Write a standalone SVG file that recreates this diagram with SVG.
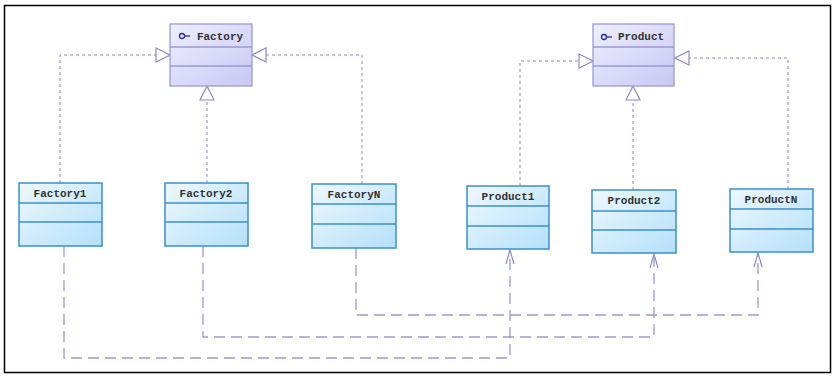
<svg xmlns="http://www.w3.org/2000/svg" width="836" height="379" viewBox="0 0 836 379">
<defs>
<linearGradient id="gi" x1="0" y1="0" x2="1" y2="1">
<stop offset="0" stop-color="#eeeefe"/><stop offset="1" stop-color="#c8c8f4"/>
</linearGradient>
<linearGradient id="gc" x1="0" y1="0" x2="1" y2="1">
<stop offset="0" stop-color="#eef8fe"/><stop offset="1" stop-color="#b4e0fa"/>
</linearGradient>
<marker id="tri" viewBox="0 0 16 16" refX="15" refY="8" markerWidth="16" markerHeight="16" markerUnits="userSpaceOnUse" orient="auto">
<path d="M1,1 L15,8 L1,15 Z" fill="#ffffff" stroke="#8c8cc8" stroke-width="1.2"/>
</marker>
<marker id="open" viewBox="0 0 16 12" refX="15" refY="6" markerWidth="16" markerHeight="12" markerUnits="userSpaceOnUse" orient="auto">
<path d="M1,2 L15,6 L1,10" fill="none" stroke="#8c8cc8" stroke-width="1.2"/>
</marker>
</defs>
<style>
.iface{fill:url(#gi);stroke:#9a9ad8;stroke-width:1.3}
.cls{fill:url(#gc);stroke:#3a90cc;stroke-width:1.5}
.isep{stroke:#9a9ad8;stroke-width:1.3}
.csep{stroke:#3a90cc;stroke-width:1.5}
.lbl{font-family:"Liberation Mono",monospace;font-size:11px;font-weight:bold;fill:#333;text-anchor:middle}
.real{fill:none;stroke:#8c8cc8;stroke-width:1;stroke-dasharray:3,3}
.dep{fill:none;stroke:#9a9ad0;stroke-width:1.3;stroke-dasharray:11,6}
</style>
<rect x="4.5" y="5.5" width="826" height="367" fill="#ffffff" stroke="#000" stroke-width="1.5"/>
<g id="connectors">
<path class="real" d="M60,183 V55 H170" marker-end="url(#tri)"/>
<path class="real" d="M207,183 V86" marker-end="url(#tri)"/>
<path class="real" d="M362,184 V55 H252" marker-end="url(#tri)"/>
<path class="real" d="M520,186 V61 H593" marker-end="url(#tri)"/>
<path class="real" d="M633,190 V86" marker-end="url(#tri)"/>
<path class="real" d="M788,189 V58 H675" marker-end="url(#tri)"/>
<path class="dep" d="M64,246 V358 H510 V250" marker-end="url(#open)"/>
<path class="dep" d="M203,246 V337 H654 V254" marker-end="url(#open)"/>
<path class="dep" d="M356,248 V315 H758 V253" marker-end="url(#open)"/>
</g>
<g id="Factory">
<rect class="iface" x="170" y="24" width="82" height="62"/>
<line class="isep" x1="170" y1="47" x2="252" y2="47"/>
<line class="isep" x1="170" y1="66" x2="252" y2="66"/>
<circle cx="182" cy="36" r="2.5" fill="none" stroke="#2a2aa0" stroke-width="1.3"/>
<line x1="184.5" y1="36" x2="190" y2="36" stroke="#2a2aa0" stroke-width="1.3"/>
<text class="lbl" x="220" y="40">Factory</text>
</g>
<g id="Product">
<rect class="iface" x="593" y="24" width="81" height="62"/>
<line class="isep" x1="593" y1="47" x2="674" y2="47"/>
<line class="isep" x1="593" y1="66" x2="674" y2="66"/>
<circle cx="604" cy="37" r="2.5" fill="none" stroke="#2a2aa0" stroke-width="1.3"/>
<line x1="606.5" y1="37" x2="612" y2="37" stroke="#2a2aa0" stroke-width="1.3"/>
<text class="lbl" x="641" y="40">Product</text>
</g>
<g id="Factory1">
<rect class="cls" x="19" y="183" width="83" height="63"/>
<line class="csep" x1="19" y1="203" x2="102" y2="203"/>
<line class="csep" x1="19" y1="222" x2="102" y2="222"/>
<text class="lbl" x="60" y="197">Factory1</text>
</g>
<g id="Factory2">
<rect class="cls" x="165" y="183" width="83" height="63"/>
<line class="csep" x1="165" y1="203" x2="248" y2="203"/>
<line class="csep" x1="165" y1="222" x2="248" y2="222"/>
<text class="lbl" x="206" y="197">Factory2</text>
</g>
<g id="FactoryN">
<rect class="cls" x="312" y="184" width="84" height="64"/>
<line class="csep" x1="312" y1="204" x2="396" y2="204"/>
<line class="csep" x1="312" y1="224" x2="396" y2="224"/>
<text class="lbl" x="354" y="198">FactoryN</text>
</g>
<g id="Product1">
<rect class="cls" x="467" y="186" width="82" height="63"/>
<line class="csep" x1="467" y1="206" x2="549" y2="206"/>
<line class="csep" x1="467" y1="226" x2="549" y2="226"/>
<text class="lbl" x="508" y="200">Product1</text>
</g>
<g id="Product2">
<rect class="cls" x="592" y="190" width="84" height="63"/>
<line class="csep" x1="592" y1="211" x2="676" y2="211"/>
<line class="csep" x1="592" y1="230" x2="676" y2="230"/>
<text class="lbl" x="634" y="204">Product2</text>
</g>
<g id="ProductN">
<rect class="cls" x="730" y="189" width="83" height="63"/>
<line class="csep" x1="730" y1="209" x2="813" y2="209"/>
<line class="csep" x1="730" y1="229" x2="813" y2="229"/>
<text class="lbl" x="771" y="203">ProductN</text>
</g>
</svg>
